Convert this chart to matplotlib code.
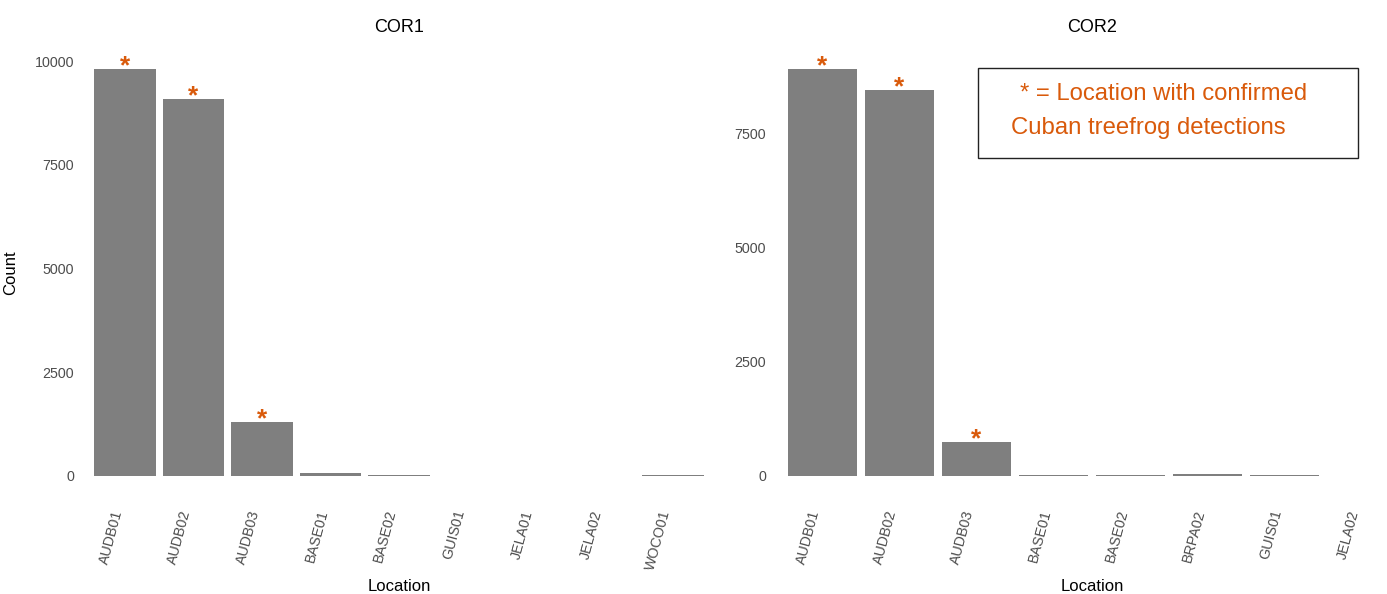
import matplotlib
matplotlib.use("Agg")
import matplotlib.pyplot as plt
from matplotlib.patches import Rectangle

plt.rcParams['font.family'] = ['Liberation Sans', 'DejaVu Sans']

# 数据
cor1_locs = ['AUDB01', 'AUDB02', 'AUDB03', 'BASE01', 'BASE02', 'GUIS01', 'JELA01', 'JELA02', 'WOCO01']
cor1_counts = [9810, 9090, 1300, 55, 25, 0, 0, 0, 25]
cor1_confirmed = ['AUDB01', 'AUDB02', 'AUDB03']

cor2_locs = ['AUDB01', 'AUDB02', 'AUDB03', 'BASE01', 'BASE02', 'BRPA02', 'GUIS01', 'JELA02']
cor2_counts = [8900, 8440, 745, 10, 8, 30, 15, 0]
cor2_confirmed = ['AUDB01', 'AUDB02', 'AUDB03']

bar_color = '#7f7f7f'
star_color = '#d95a0b'

W, H = 1387, 594
fig = plt.figure(figsize=(W / 100, H / 100), dpi=100)


def px_axes(x0, x1, y0, y1):
    # 像素坐标 -> figure 坐标
    return fig.add_axes([x0 / W, 1 - y1 / H, (x1 - x0) / W, (y1 - y0) / H])


def draw_panel(ax, locs, counts, confirmed, title, ylim, xlim, yticks, title_x):
    xs = list(range(1, len(locs) + 1))
    ax.bar(xs, counts, width=0.9, color=bar_color, zorder=2)
    for x, loc, c in zip(xs, locs, counts):
        if loc in confirmed:
            ax.annotate('*', (x, c), xytext=(0, -3), textcoords='offset points',
                        ha='center', va='baseline', fontsize=19, fontweight='bold',
                        color=star_color, zorder=3)
    ax.set_xlim(*xlim)
    ax.set_ylim(*ylim)
    ax.set_yticks(yticks)
    ax.set_xticks(xs)
    ax.set_xticklabels(locs, rotation=75, ha='right')
    for s in ax.spines.values():
        s.set_visible(False)
    ax.tick_params(length=0, labelsize=10.3, labelcolor='#4d4d4d')
    ax.tick_params(axis='y', pad=7)
    ax.tick_params(axis='x', pad=9)
    ax.text(title_x, 1.028, title, transform=ax.transAxes, ha='center', va='bottom', fontsize=13)
    ax.set_xlabel('Location', fontsize=12)
    ax.xaxis.set_label_coords(title_x, -0.185)


ax1 = px_axes(84, 714, 49, 496)
draw_panel(ax1, cor1_locs, cor1_counts, cor1_confirmed, 'COR1',
           (-490, 10297), (0.4, 9.6), [0, 2500, 5000, 7500, 10000], 0.5)
ax1.set_ylabel('Count', fontsize=12)
ax1.yaxis.set_label_coords(-0.105, 0.5)

ax2 = px_axes(776, 1387, 49, 496)
draw_panel(ax2, cor2_locs, cor2_counts, cor2_confirmed, 'COR2',
           (-445, 9345), (0.4, 8.33), [0, 2500, 5000, 7500], 0.517)

# 图注框
fig.patches.append(Rectangle((978 / W, 1 - 158 / H), 380 / W, 90 / H, transform=fig.transFigure,
                             fill=False, edgecolor='#222222', linewidth=1))
fig.text(1020 / W, 1 - 94 / H, '* = Location with confirmed', ha='left', va='center',
         fontsize=17.2, color=star_color)
fig.text(1011 / W, 1 - 128 / H, 'Cuban treefrog detections', ha='left', va='center',
         fontsize=17.2, color=star_color)

fig.savefig('out.png', dpi=100)
